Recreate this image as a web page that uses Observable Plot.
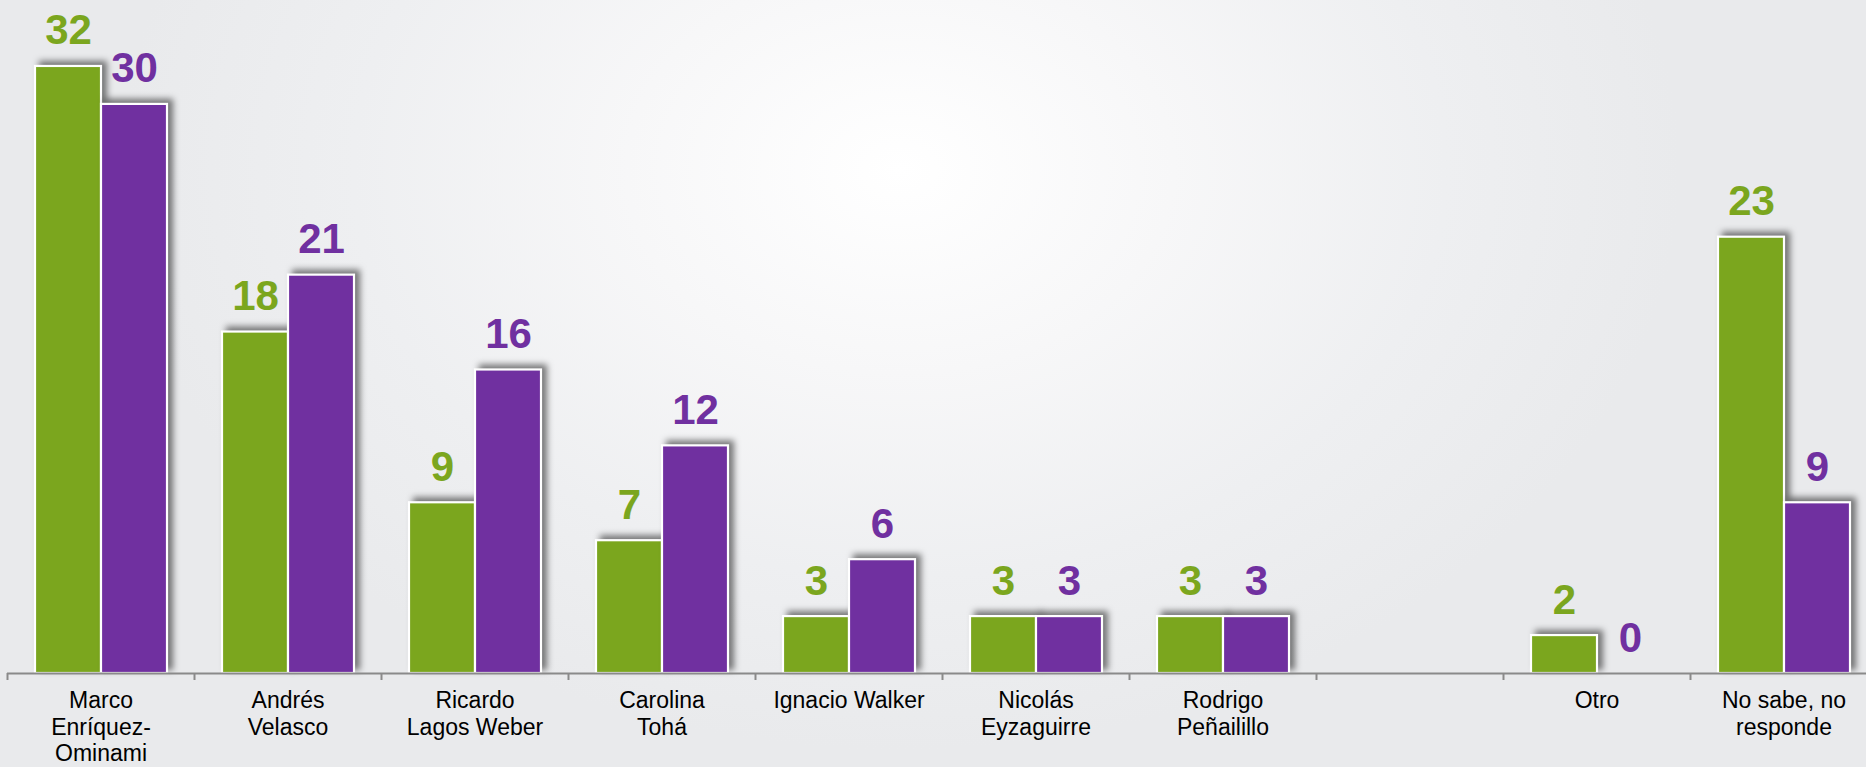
<!DOCTYPE html>
<html>
<head>
<meta charset="utf-8">
<script src="https://cdn.jsdelivr.net/npm/d3@7"></script>
<script src="https://cdn.jsdelivr.net/npm/@observablehq/plot@0.6"></script>
<style>
  html, body { margin: 0; padding: 0; width: 1866px; height: 767px; overflow: hidden; }
  body {
    background: radial-gradient(ellipse 780px 580px at 900px 170px, #ffffff 0%, #f7f7f8 35%, #eeeff1 70%, #e9eaec 100%);
    font-family: "Liberation Sans", Arial, sans-serif;
  }
  #chart svg { background: transparent; display: block; }
</style>
</head>
<body>
<div id="chart"></div>
<script>
// ---- data ----
const categories = ["Marco Enríquez-Ominami", "Andrés Velasco", "Ricardo Lagos Weber", "Carolina Tohá", "Ignacio Walker", "Nicolás Eyzaguirre", "Rodrigo Peñailillo", "_blank", "Otro", "No sabe, no responde"];
const tickLabels = ["Marco\nEnríquez-\nOminami", "Andrés\nVelasco", "Ricardo\nLagos Weber", "Carolina\nTohá", "Ignacio Walker", "Nicolás\nEyzaguirre", "Rodrigo\nPeñailillo", "", "Otro", "No sabe, no\nresponde"];
const greenValues = [32, 18, 9, 7, 3, 3, 3, null, 2, 23];
const purpleValues = [30, 21, 16, 12, 6, 3, 3, null, 0, 9];

const GREEN = "#7ba61e";
const PURPLE = "#7030a0";

const greenRows = categories.map((c, i) => ({cat: c, value: greenValues[i]})).filter(d => d.value != null);
const purpleRows = categories.map((c, i) => ({cat: c, value: purpleValues[i]})).filter(d => d.value != null);

// ---- layout ----
const W = 1866, H = 767;
const x0 = 7, step = 187;
const xRange = [x0, x0 + step * categories.length];
const axisY = 673;
const pxPerUnit = 18.97;
const pad = 28, barW = 66;

const chart = Plot.plot({
  width: W,
  height: H,
  marginTop: 0,
  marginBottom: H - axisY,
  marginLeft: x0,
  marginRight: 0,
  style: {background: "transparent", fontFamily: "'Liberation Sans', Arial, sans-serif", color: "#000"},
  x: {type: "band", domain: categories, range: xRange, padding: 0, label: null},
  y: {domain: [0, axisY / pxPerUnit], range: [axisY, 0], axis: null},
  marks: [
    Plot.barY(greenRows.filter(d => d.value > 0), {
      x: "cat", y: "value", fill: GREEN, stroke: "#ffffff", strokeWidth: 2.2,
      insetLeft: pad, insetRight: step - pad - barW
    }),
    Plot.barY(purpleRows.filter(d => d.value > 0), {
      x: "cat", y: "value", fill: PURPLE, stroke: "#ffffff", strokeWidth: 2.2,
      insetLeft: pad + barW, insetRight: step - pad - 2 * barW
    }),
    Plot.ruleY([0], {stroke: "#8a8a8a", strokeWidth: 2}),
    Plot.axisX({tickSize: 7, tickFormat: () => "", label: null, dx: -step / 2, stroke: "#8a8a8a", strokeWidth: 2}),
    Plot.axisX({
      tickSize: 0, tickPadding: 16, fontSize: 23, lineHeight: 1.15, fill: "#000", label: null,
      tickFormat: d => tickLabels[categories.indexOf(d)]
    }),
    Plot.text(greenRows, {
      x: "cat", y: "value", text: d => String(d.value), fill: GREEN,
      dx: pad + barW / 2 - step / 2, dy: -22, lineAnchor: "bottom",
      fontSize: 42, fontWeight: "bold"
    }),
    Plot.text(purpleRows, {
      x: "cat", y: "value", text: d => String(d.value), fill: PURPLE,
      dx: pad + barW * 1.5 - step / 2, dy: -22, lineAnchor: "bottom",
      fontSize: 42, fontWeight: "bold"
    })
  ]
});

chart.querySelectorAll('g[aria-label="bar"]').forEach(g => {
  g.style.filter = "drop-shadow(5px -4px 3px rgba(0,0,0,0.5))";
});

document.getElementById("chart").appendChild(chart);
</script>
</body>
</html>
